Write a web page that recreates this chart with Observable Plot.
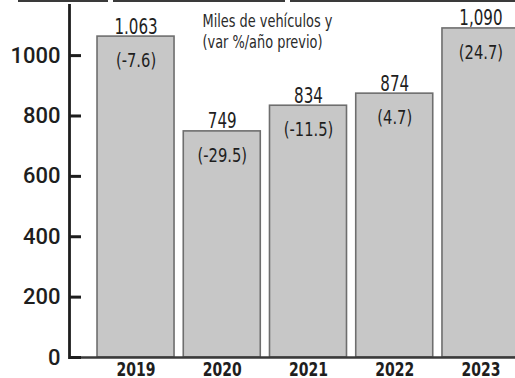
<!DOCTYPE html>
<html>
<head>
<meta charset="utf-8">
<script src="https://cdn.jsdelivr.net/npm/d3@7"></script>
<script src="https://cdn.jsdelivr.net/npm/@observablehq/plot@0.6"></script>
<style>
  html, body { margin: 0; padding: 0; background: #fff; overflow: hidden; }
  #wrap { position: relative; width: 515px; height: 378px; overflow: hidden; }
  .rule { position: absolute; top: 0; height: 2px; background: #3a3a3a; }
</style>
</head>
<body>
<div id="wrap">
  <div class="rule" style="left:18px;width:90px"></div>
  <div class="rule" style="left:113px;width:172px"></div>
  <div class="rule" style="left:290px;width:225px"></div>
</div>
<script>
// Vehicle sales, thousands of units, with year-over-year change in %
const years = ["2019", "2020", "2021", "2022", "2023"];
const units = [1063, 749, 834, 874, 1090];
const unitLabels = ["1.063", "749", "834", "874", "1,090"];
const changes = [-7.6, -29.5, -11.5, 4.7, 24.7];
const yTicks = [0, 200, 400, 600, 800, 1000];

const rows = years.map((year, i) => ({
  year,
  units: units[i],
  label: unitLabels[i],
  change: `(${changes[i]})`
}));

const W = 515, H = 378, ML = 69, TICK = 12;
const narrow = "'DejaVu Sans Condensed', 'DejaVu Sans', sans-serif";
const ink = "#1e1e1e";

const chart = Plot.plot({
  width: W,
  height: H,
  marginTop: 5,
  marginBottom: 21,
  marginLeft: ML,
  marginRight: 0,
  style: { background: "#fff", color: ink, overflow: "hidden" },
  x: {
    type: "band",
    domain: years,
    range: [ML, 547],
    paddingInner: 0.107,
    paddingOuter: 0.325,
    round: false
  },
  y: { domain: [0, 1166] },
  marks: [
    Plot.barY(rows, {
      x: "year",
      y: "units",
      fill: "#c7c7c7",
      stroke: "#6e6e6e",
      strokeWidth: 1.6
    }),
    Plot.ruleY([0], { stroke: "#3a3a3a", strokeWidth: 2.5 }),
    Plot.frame({ anchor: "left", stroke: ink, strokeWidth: 2.8 }),
    // short inward tick marks on the value axis
    Plot.tickY(yTicks, {
      y: d => d,
      insetRight: W - ML - TICK,
      stroke: ink,
      strokeWidth: 3
    }),
    Plot.axisY({
      ticks: yTicks,
      tickSize: 0,
      tickPadding: 9,
      tickFormat: d => String(d),
      label: null,
      fontFamily: "Roboto, sans-serif",
      fontSize: 22,
      fontWeight: 500,
      fill: ink
    }),
    Plot.axisX({
      tickSize: 0,
      tickPadding: 5,
      label: null,
      fontFamily: narrow,
      fontSize: 19,
      fontWeight: "bold",
      fill: ink
    }),
    Plot.text(rows, {
      x: "year",
      y: "units",
      text: "label",
      dy: -3,
      lineAnchor: "bottom",
      fontFamily: narrow,
      fontSize: 20.5,
      fill: ink
    }),
    Plot.text(rows, {
      x: "year",
      y: "units",
      text: "change",
      dy: 24,
      lineAnchor: "middle",
      fontFamily: narrow,
      fontSize: 20,
      fill: ink
    }),
    Plot.text(["Miles de vehículos y\n(var %/año previo)"], {
      frameAnchor: "top-left",
      textAnchor: "start",
      lineAnchor: "top",
      dx: 133,
      dy: 7,
      lineHeight: 1.18,
      fontFamily: narrow,
      fontSize: 17.5,
      fill: "#2a2a2a"
    })
  ]
});

document.getElementById("wrap").prepend(chart);

// Narrow the lettering horizontally around each label's anchor point
function squeeze(selector, s) {
  chart.querySelectorAll(selector).forEach(t => {
    const ax = parseFloat(t.getAttribute("x")) || 0;
    const prev = t.getAttribute("transform") || "";
    t.setAttribute("transform", `${prev} translate(${ax},0) scale(${s},1) translate(${-ax},0)`);
  });
}
squeeze('g[aria-label="text"] text', 0.82);
squeeze('g[aria-label="x-axis tick label"] text', 0.82);
</script>
</body>
</html>
